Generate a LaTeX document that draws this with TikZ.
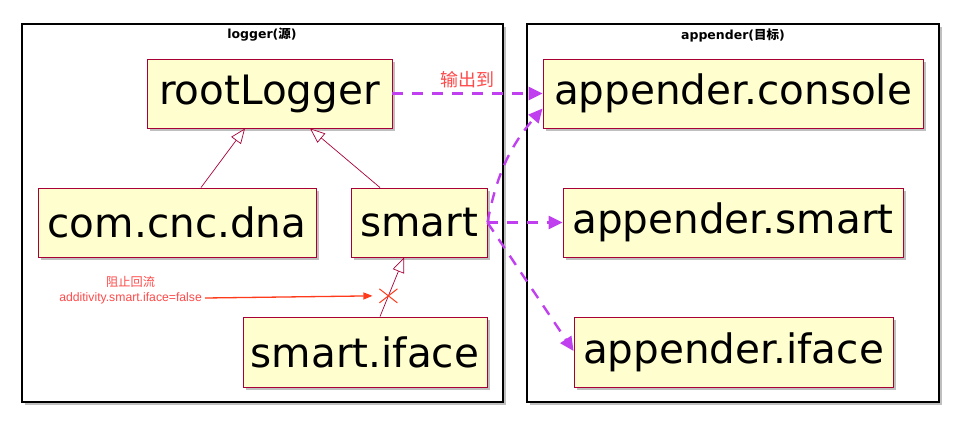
\documentclass[tikz,border=0pt]{standalone}
\usepackage{fontspec}
\setmainfont{DejaVu Sans}
\newfontfamily\cjk{Noto Sans CJK SC}
\newfontfamily\notefont{Liberation Sans}
\usetikzlibrary{arrows.meta,positioning,shadows,shapes.misc,calc}
\definecolor{boxfill}{HTML}{FEFECE}
\definecolor{boxline}{HTML}{A80036}
\definecolor{outlink}{HTML}{C040F0}
\definecolor{notered}{HTML}{FF4A4A}
\definecolor{cutred}{HTML}{FF3A1A}
\tikzset{
  cls/.style={draw=boxline, fill=boxfill, line width=0.9pt, minimum height=69pt, inner sep=0pt,
    font=\fontsize{40.5}{46}\selectfont,
    drop shadow={shadow xshift=3pt, shadow yshift=-3pt, opacity=0.25, fill=black}},
  pkg/.style={draw=black, line width=1.6pt, fill=white,
    drop shadow={shadow xshift=3pt, shadow yshift=-3pt, opacity=0.25, fill=black}},
  ptitle/.style={font=\fontsize{12.5}{14}\selectfont\bfseries, inner sep=0pt},
  gen/.style={draw=boxline, line width=0.7pt, -{Triangle[fill=white, length=15pt, width=12pt]}},
  dep/.style={draw=outlink, line width=2.4pt, dash pattern=on 11pt off 9pt, -{Triangle[length=14pt, width=13pt]}},
  note/.style={text=notered, font=\notefont\fontsize{12.2}{14}\selectfont, inner sep=0pt}
}
\begin{document}
\begin{tikzpicture}[x=1pt, y=-1pt]
\useasboundingbox (0,0) rectangle (973,428);

% packages
\draw[pkg] (22,24) rectangle (503,402);
\draw[pkg] (527,24) rectangle (939,402);
\node[ptitle] (srctitle) at (262,35) {logger({\cjk 源})};
\node[ptitle] (dsttitle) at (733,35) {appender({\cjk 目标})};

% loggers
\node[cls, minimum width=245pt] (root) at (269.5,93.5) {rootLogger};
\node[cls, minimum width=278pt] (dna) at (177,222.5) {com.cnc.dna};
\node[cls, minimum width=136pt] (smart) at (419,222.5) {smart};
\node[cls, minimum width=244pt, minimum height=70pt] (iface) at (365,352) {smart.iface};

% appenders
\node[cls, minimum width=380pt] (console) at (733,93.5) {appender.console};
\node[cls, minimum width=340pt] (asmart) at (733,222.5) {appender.smart};
\node[cls, minimum width=319pt, minimum height=70pt] (aiface) at (733.5,352) {appender.iface};

% inheritance
\draw[gen] ([xshift=24pt]dna.north) -- ([xshift=-24.5pt]root.south);
\draw[gen] ([xshift=-39pt]smart.north) -- ([xshift=40.5pt]root.south);
\draw[gen] ([xshift=15pt]iface.north) -- coordinate[pos=0.35] (cut) ([xshift=-15pt]smart.south);
\node[draw=cutred, cross out, line width=1pt, minimum width=17pt, minimum height=13pt, inner sep=0pt] (block) at (cut) {};

% note
\node[note, anchor=east] (nflag) at (202,298) {additivity.smart.iface=false};
\node[note, above=4pt of nflag] (ntitle) {\cjk 阻止回流};
\draw[cutred, line width=1.3pt, -{Triangle[length=9pt, width=7pt]}] ([xshift=3pt]nflag.east) -- ([xshift=-7pt]block.west);

% outputs
\draw[dep] (root.east) -- node[above=1pt, text=notered, font=\cjk\fontsize{18}{20}\selectfont] (outlbl) {输出到} (console.west);
\draw[dep] (smart.east) to[bend left=15] ([yshift=-15pt]console.west);
\draw[dep] (smart.east) -- (asmart.west);
\draw[dep] (smart.east) -- ([yshift=1pt]aiface.west);
\end{tikzpicture}
\end{document}
